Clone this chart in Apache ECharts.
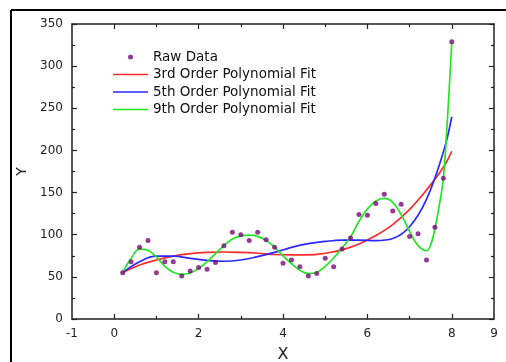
<!DOCTYPE html>
<html>
<head>
<meta charset="utf-8">
<script src="https://cdn.jsdelivr.net/npm/echarts@6/dist/echarts.min.js"></script>
<style>
  html, body { margin: 0; padding: 0; background: #fff; }
  #chart { width: 506px; height: 362px; }
</style>
</head>
<body>
<div id="chart"></div>
<script>
// Raw measurements
const rawX = [0.2, 0.4, 0.6, 0.8, 1.0, 1.2, 1.4, 1.6, 1.8, 2.0,
              2.2, 2.4, 2.6, 2.8, 3.0, 3.2, 3.4, 3.6, 3.8, 4.0,
              4.2, 4.4, 4.6, 4.8, 5.0, 5.2, 5.4, 5.6, 5.8, 6.0,
              6.2, 6.4, 6.6, 6.8, 7.0, 7.2, 7.4, 7.6, 7.8, 8.0];
const rawY = [55, 68, 85, 93, 55, 68, 68, 51, 57, 61,
              59, 67, 87, 103, 100, 93, 103, 94, 85, 66,
              70, 62, 51, 54, 72, 62, 83, 96, 124, 123,
              137, 148, 128, 136, 98, 101, 70, 109, 167, 329];

// Polynomial fit curves, sampled along x
const fitX = [0.2, 0.6, 1.0, 1.4, 1.8, 2.2, 2.6, 3.0, 3.4, 3.8,
              4.2, 4.6, 5.0, 5.4, 5.8, 6.2, 6.6, 7.0, 7.4, 7.8, 8.0];
const fit3 = [55, 64, 70, 74.5, 77.5, 79, 79.5, 79, 78, 76.5,
              76, 76, 78, 82, 89, 99, 112, 130, 153, 180, 199];
const fit5 = [55, 68, 74.5, 74.5, 72, 69.5, 68.5, 70, 74, 79,
              85, 89.5, 92, 93.5, 93.5, 93, 95.5, 109.5, 142, 198, 240];
const fit9X = [0.2, 0.4, 0.6, 0.8, 1.0, 1.2, 1.4, 1.6, 1.8, 2.0,
               2.2, 2.4, 2.6, 2.8, 3.0, 3.2, 3.4, 3.6, 3.8, 4.0,
               4.2, 4.4, 4.6, 4.8, 5.0, 5.2, 5.4, 5.6, 5.8, 6.0,
               6.2, 6.4, 6.6, 6.8, 7.0, 7.2, 7.4, 7.5, 7.6, 7.7, 7.8, 7.9, 8.0];
const fit9 = [55, 72, 83, 81.5, 73.5, 62.5, 55.4, 53, 54.6, 60,
              68, 77.5, 87, 95, 98.5, 99.6, 98, 93.3, 85.4, 75,
              65.6, 57.7, 53.8, 55.4, 62.5, 72.4, 84.2, 97.3, 116, 130.5,
              140, 143, 138.4, 123.8, 104, 87, 81, 88, 107, 134, 167, 240, 328];

const seriesNames = ['Raw Data', '3rd Order Polynomial Fit', '5th Order Polynomial Fit', '9th Order Polynomial Fit'];
const xLabelValues = [-1, 0, 2, 4, 6, 8, 9];
const xMajorTicks = [0, 2, 4, 6, 8];
const xMinorTicks = [1, 3, 5, 7];

const zip = (xs, ys) => xs.map((x, i) => [x, ys[i]]);

const FONT = 'DejaVu Sans, Verdana, sans-serif';
const AXIS_COLOR = '#222';
// thin horizontal bar used as the legend swatch of the fit lines
const LINE_ICON = 'path://M0,0 L70,0 L70,3.4 L0,3.4 Z';

function xAxisDef(position, ticks, len, showLabel, showLine) {
  return {
    type: 'value', min: -1, max: 9, position: position,
    axisLine: { show: showLine, onZero: false, lineStyle: { color: AXIS_COLOR, width: 1.5 } },
    axisTick: { show: true, inside: true, length: len, customValues: ticks,
                lineStyle: { color: AXIS_COLOR, width: 1.2 } },
    axisLabel: { show: showLabel, customValues: xLabelValues, margin: 9,
                 fontFamily: FONT, fontSize: 12, color: '#222' },
    splitLine: { show: false }
  };
}

function yAxisDef(position, showLabel) {
  return {
    type: 'value', min: 0, max: 350, interval: 50, position: position,
    name: showLabel ? 'Y' : '', nameLocation: 'middle', nameGap: 40, nameRotate: 90,
    nameTextStyle: { fontFamily: FONT, fontSize: 14, color: '#222' },
    axisLine: { show: true, onZero: false, lineStyle: { color: AXIS_COLOR, width: 1.5 } },
    axisTick: { show: true, inside: true, length: 5, lineStyle: { color: AXIS_COLOR, width: 1.2 } },
    minorTick: { show: true, splitNumber: 2, length: 3, lineStyle: { color: AXIS_COLOR, width: 1.2 } },
    axisLabel: { show: showLabel, margin: 9, fontFamily: FONT, fontSize: 12, color: '#222' },
    splitLine: { show: false }
  };
}

const xMain = xAxisDef('bottom', xMajorTicks, 5, true, true);
xMain.name = 'X';
xMain.nameLocation = 'middle';
xMain.nameGap = 28;
xMain.nameTextStyle = { fontFamily: FONT, fontSize: 16, color: '#222' };

const chart = echarts.init(document.getElementById('chart'));
chart.setOption({
  animation: false,
  backgroundColor: '#fff',
  grid: { left: 72, right: 12, top: 24, bottom: 43, outerBoundsMode: 'none' },
  legend: {
    orient: 'vertical', left: 108, top: 45,
    itemWidth: 35, itemHeight: 5, itemGap: 3.5,
    textStyle: { fontFamily: FONT, fontSize: 13.5, color: '#111' },
    data: seriesNames.map((n, i) => i === 0 ? { name: n, icon: 'circle' } : { name: n, icon: LINE_ICON })
  },
  xAxis: [
    xMain,
    xAxisDef('bottom', xMinorTicks, 3, false, false),
    xAxisDef('top', xMajorTicks, 5, false, true),
    xAxisDef('top', xMinorTicks, 3, false, false)
  ],
  yAxis: [yAxisDef('left', true), yAxisDef('right', false)],
  graphic: [
    { type: 'line', shape: { x1: 11, y1: 10, x2: 506, y2: 10 },
      style: { stroke: '#000', lineWidth: 2 } },
    { type: 'line', shape: { x1: 11, y1: 10, x2: 11, y2: 362 },
      style: { stroke: '#000', lineWidth: 2 } }
  ],
  series: [
    { name: seriesNames[1], type: 'line', data: zip(fitX, fit3), smooth: 0.4,
      symbol: 'none', lineStyle: { color: '#ff2a2a', width: 1.7 }, itemStyle: { color: '#ff2a2a' }, z: 2 },
    { name: seriesNames[2], type: 'line', data: zip(fitX, fit5), smooth: 0.4,
      symbol: 'none', lineStyle: { color: '#2a2aff', width: 1.7 }, itemStyle: { color: '#2a2aff' }, z: 2 },
    { name: seriesNames[3], type: 'line', data: zip(fit9X, fit9), smooth: 0.4,
      symbol: 'none', lineStyle: { color: '#22e622', width: 1.7 }, itemStyle: { color: '#22e622' }, z: 3 },
    { name: seriesNames[0], type: 'scatter', data: zip(rawX, rawY), symbolSize: 5,
      itemStyle: { color: '#7a0a7a' }, z: 4 }
  ]
});
</script>
</body>
</html>
